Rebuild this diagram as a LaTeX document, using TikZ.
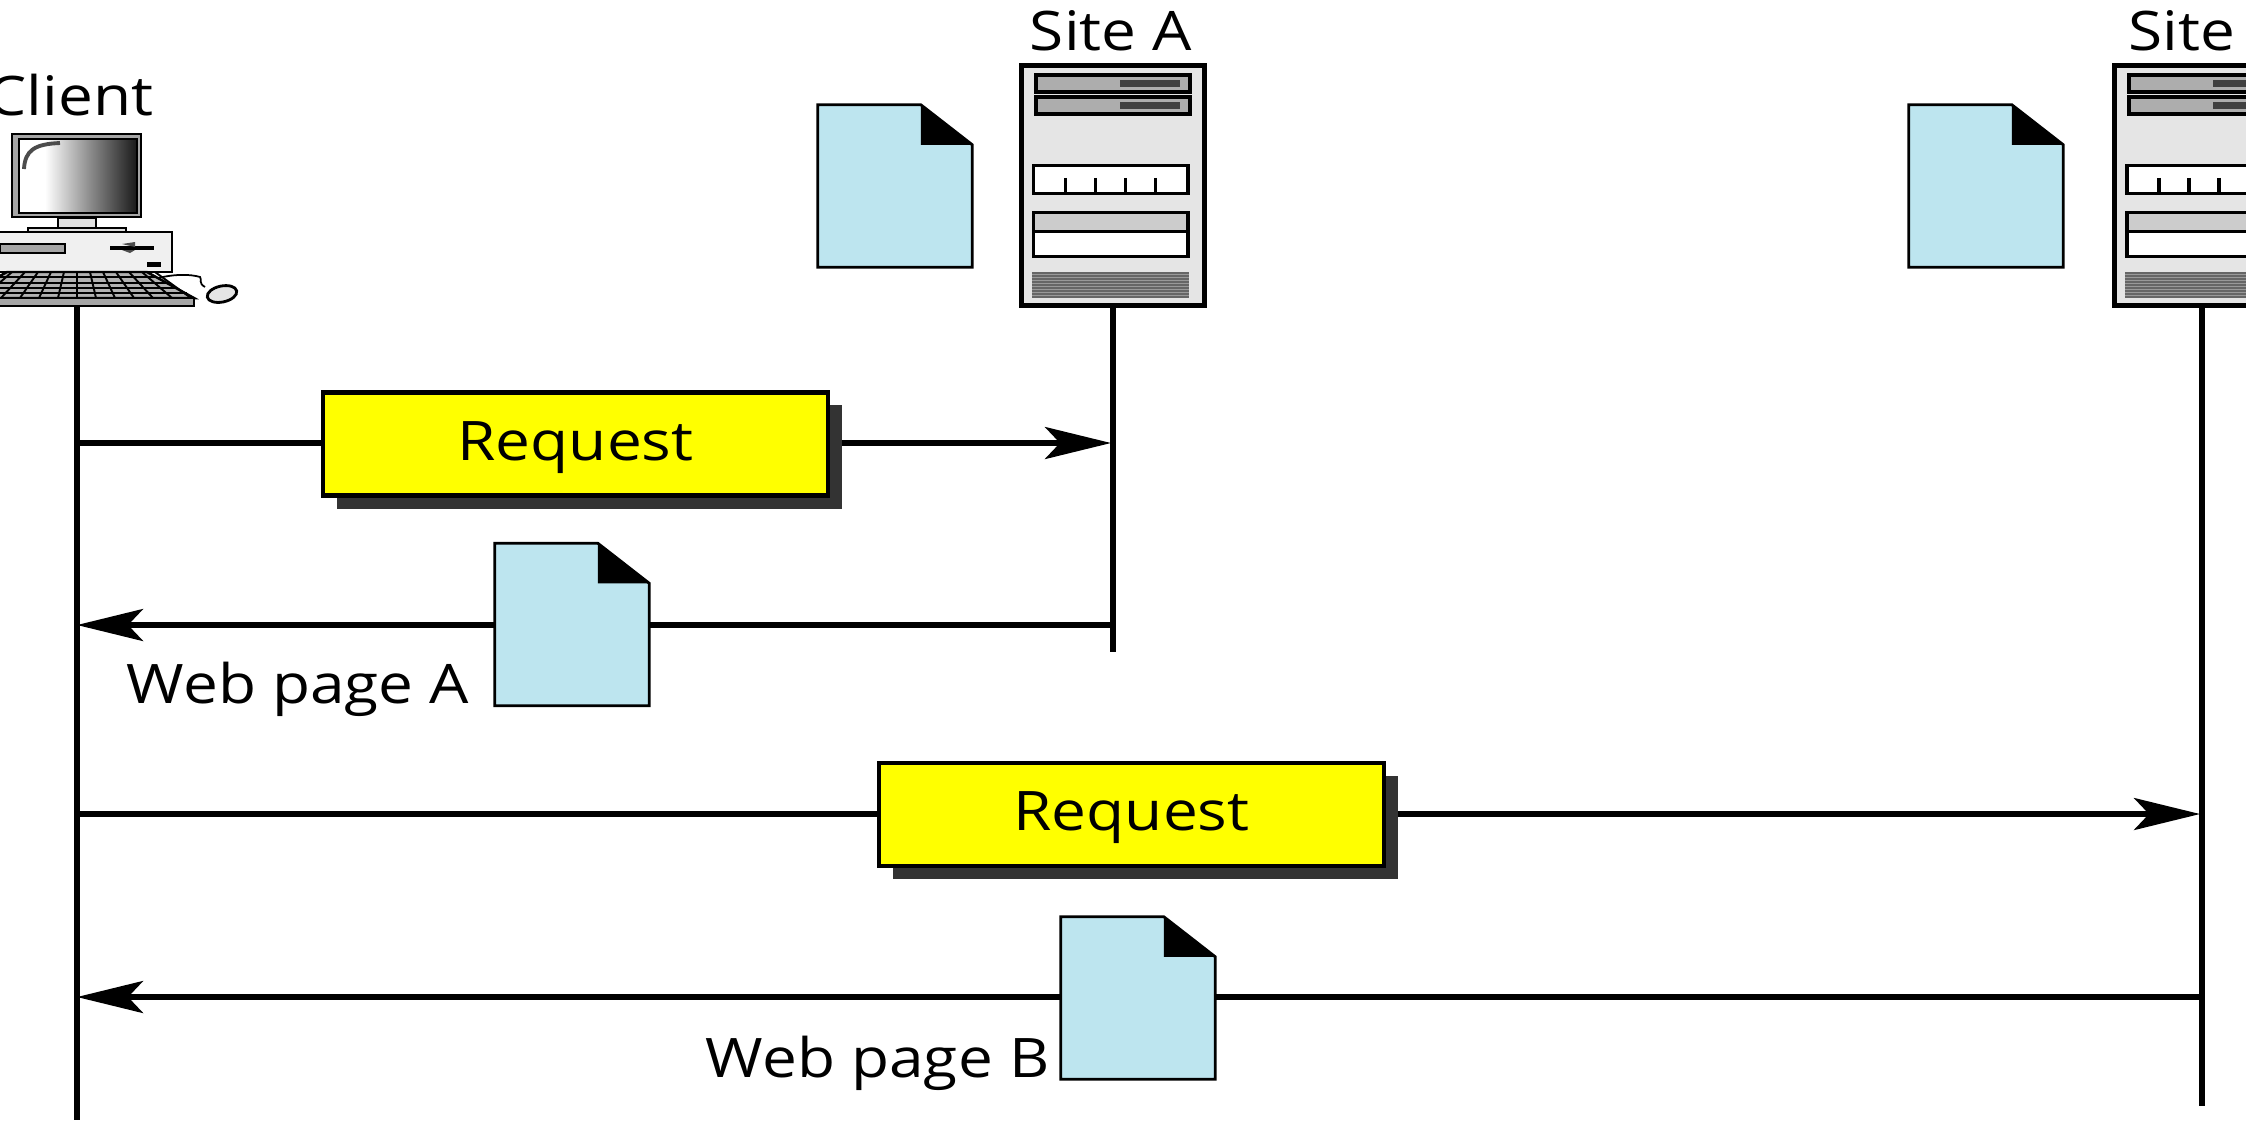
\documentclass[tikz,border=0pt]{standalone}
\usepackage{fontspec}
\setmainfont[FakeStretch=1.14]{Open Sans}
\usetikzlibrary{arrows.meta,shadows}
\definecolor{pageblue}{HTML}{BDE5EF}
\definecolor{reqyellow}{RGB}{255,255,0}
\pgfdeclarehorizontalshading{screenshade}{100bp}{color(0bp)=(white); color(36bp)=(white); color(55bp)=(black!45); color(75bp)=(black!90); color(100bp)=(black!90)}
\tikzset{
 lifeline/.style={line width=1.5pt},
 flow/.style={line width=1.5pt,-{Stealth[length=.66cm,width=.32cm,inset=.15cm]}},
 reqbox/.style={draw,fill=reqyellow,line width=1.3pt,minimum width=5.05cm,minimum height=1.03cm,inner sep=0pt,text height=.32cm,text depth=0pt,
  drop shadow={shadow xshift=.14cm,shadow yshift=-.13cm,fill=black!80,opacity=1}},
 pagebox/.style={minimum width=1.53cm,minimum height=1.61cm,inner sep=0pt},
 serverbox/.style={draw,fill=black!10,line width=1.45pt,minimum width=1.83cm,minimum height=2.4cm,inner sep=0pt},
 tag/.style={font=\fontsize{15.5}{18}\selectfont,inner sep=0pt},
 serverparts/.pic={
  \foreach \y in {12,34} {
   \draw[fill=black!32,line width=1pt] (17,\y) rectangle (171,\y+17);
   \fill[black!75] (101,\y+5) rectangle (161,\y+12);
  }
  \draw[fill=white,line width=.9pt] (15,103) rectangle (169,131);
  \foreach \x in {47,77,107,137} \draw[line width=.9pt] (\x,115) -- (\x,131);
  \draw[fill=white,line width=.9pt] (15,150) rectangle (169,194);
  \draw[fill=black!20,line width=.9pt] (15,150) rectangle (169,169);
  \fill[black!40] (13,209) rectangle (170,235);
  \foreach \y in {210,213,...,234} \draw[black!60,line width=.4pt] (13,\y) -- (170,\y);
 }
}
\newcommand{\webpage}[2]{
 \node[pagebox] (#1) at (#2) {};
 \draw[fill=pageblue,line width=.8pt] (#1.south west) -- (#1.north west) -- ([xshift=1.03cm]#1.north west)
  -- ([yshift=-.4cm]#1.north east) -- (#1.south east) -- cycle;
 \fill ([xshift=1.03cm]#1.north west) -- ([yshift=-.4cm]#1.north east) -- ([xshift=1.03cm,yshift=-.4cm]#1.north west) -- cycle;
}
\begin{document}
\begin{tikzpicture}[x=.01cm,y=-.01cm]
\useasboundingbox (0,0) rectangle (2246,1120);
\clip (0,0) rectangle (2246,1120);
% client
\node[tag,anchor=base east] (client) at (154,115) {Client};
\draw[line width=.8pt,fill=black!35] (12,134) rectangle (141,217);
\shade[shading=screenshade,draw,line width=.8pt] (19,139) rectangle (137,213);
\draw[line width=1.1pt,black!70] (24,169) .. controls (25,150) and (35,144) .. (60,143);
\draw[line width=.7pt,fill=black!12] (58,218) rectangle (96,228);
\draw[line width=.7pt,fill=black!12] (28,228) rectangle (126,233);
\draw[line width=.8pt,fill=black!6] (-20,232) rectangle (172,272);
\draw[line width=.6pt,fill=black!35] (0,244) rectangle (65,253);
\draw[line width=1.1pt] (110,248) -- (154,248);
\fill[black!70] (122,244) -- (135,242) -- (135,247) -- cycle;
\fill[black!70] (122,250) -- (135,250) -- (130,253) -- cycle;
\fill (147,262) rectangle (161,267);
\draw[line width=.5pt] (158,278) .. controls (175,274) and (190,274) .. (200,277) .. controls (202,279) and (198,283) .. (205,287);
\draw[line width=.7pt,fill=black!30] (-40,298) -- (7,272) -- (147,272) -- (194,298) -- cycle;
\foreach \y/\w in {277/8,283/20,288/30,293/40} \draw[line width=.55pt] (7-\w,\y) -- (147+\w,\y);
\foreach \k in {-5,...,6} \draw[line width=.55pt] (77+\k*13,272) -- (77+\k*19,298);
\draw[line width=.7pt,fill=black!35] (-40,298) rectangle (194,306);
\draw[line width=.8pt,fill=black!10,rotate around={12:(222,294)}] (222,294) ellipse (15 and 8);
% sites
\node[serverbox] (serverA) at (1113,185.5) {};
\pic at (serverA.north west) {serverparts};
\node[tag,anchor=base] (siteA) at (1111,50) {Site A};
\node[serverbox] (serverB) at (2206,185.5) {};
\pic at (serverB.north west) {serverparts};
\node[tag,anchor=base west] (siteB) at (2128,50) {Site B};
\webpage{pageA}{895,186}
\webpage{pageB}{1986,186}
% lifelines
\coordinate (footC) at (77,306);
\coordinate (endC) at (77,1120);
\coordinate (endA) at (1113,652);
\coordinate (topB) at (2202,306);
\coordinate (endB) at (2202,1106);
\draw[lifeline] (footC) -- (endC);
\draw[lifeline] (serverA.south) -- (endA);
\draw[lifeline] (topB) -- (endB);
% messages
\coordinate (c1) at (77,443);
\coordinate (a1) at (1111,443);
\coordinate (a2) at (1113,625);
\coordinate (c2) at (77,625);
\coordinate (c3) at (77,814);
\coordinate (b3) at (2200,814);
\coordinate (b4) at (2202,997);
\coordinate (c4) at (77,997);
\draw[flow] (c1) -- (a1);
\node[reqbox,tag] (reqA) at (575.5,444) {Request};
\draw[flow] (a2) -- (c2);
\webpage{replyA}{572,624.5}
\node[tag,anchor=base east] (labelA) at (470,703) {Web page A};
\draw[flow] (c3) -- (b3);
\node[reqbox,tag] (reqB) at (1131.5,814.5) {Request};
\draw[flow] (b4) -- (c4);
\webpage{replyB}{1138,998}
\node[tag,anchor=base east] (labelB) at (1050,1077) {Web page B};
\end{tikzpicture}
\end{document}
